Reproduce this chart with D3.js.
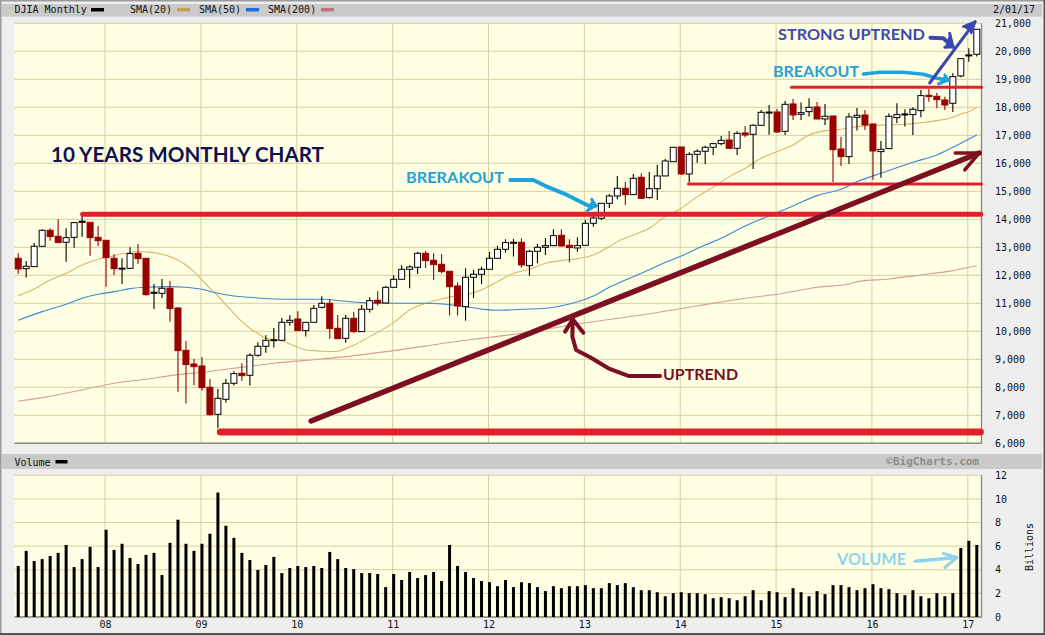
<!DOCTYPE html>
<html>
<head>
<meta charset="utf-8">
<script src="https://cdn.jsdelivr.net/npm/d3@7"></script>
<style>
  html, body { margin: 0; padding: 0; background: #eeeeee; overflow: hidden; }
  svg { display: block; }
  .mono { font-family: "DejaVu Sans Mono", monospace; font-size: 10px; fill: #111; }
  .note { font-family: Lato, "Open Sans", sans-serif; font-weight: 700; }
</style>
</head>
<body>
<svg id="chart" width="1045" height="635"></svg>
<script>
// monthly candles, Feb 2007 .. Feb 2017
const open = [
  12607,12238,12310,13036,13607,13393,13179,13357,13893,13893,
  13357,13250,12607,12250,12250,12786,12607,11357,11357,11536,
  10833,9321,8833,8762,8000,7036,7571,8143,8500,8429,
  9143,9464,9690,9679,10321,10440,10024,10321,10857,11000,
  10107,9750,10464,9988,10786,11107,11012,11571,11857,12214,
  12286,12786,12536,12393,12143,11619,10881,11929,12036,12214,
  12607,12929,13167,13179,12345,12857,13000,13060,13429,13071,
  12976,13071,13857,14036,14571,14833,15107,14881,15500,14774,
  15095,15548,16060,16583,15619,16321,16429,16571,16702,16833,
  16536,17083,17036,17357,17821,17833,17143,18119,17750,17845,
  18012,17583,17690,16512,16238,17643,17726,17405,16417,16524,
  17631,17750,17738,17881,18429,18393,18262,18143,19119,19870,
  19893];
const close = [
  12226,12321,13036,13607,13381,13167,13345,13881,13930,13345,
  13238,12631,12238,12255,12774,12595,11310,11395,11536,10810,
  9310,8810,8738,7988,7024,7607,8143,8488,8417,9143,
  9464,9679,9700,10321,10393,10024,10321,10821,11000,10095,
  9738,10464,9988,10786,11095,11012,11571,11857,12214,12298,
  12786,12524,12381,12131,11595,10905,11929,12036,12214,12607,
  12929,13167,13179,12369,12857,13000,13060,13417,13048,12988,
  13060,13857,14048,14571,14833,15107,14881,15464,14750,15095,
  15548,16083,16571,15619,16321,16429,16571,16702,16821,16536,
  17071,17012,17357,17821,17830,17119,18107,17726,17810,18000,
  17583,17679,16488,16238,17655,17714,17369,16440,16500,17679,
  17738,17762,17929,18417,18381,18274,18083,19095,19738,19871,
  20786];
const high = [
  12786,12512,13155,13643,13679,14000,13679,13881,14155,13893,
  13762,13250,12750,12607,13000,13119,12607,11690,11869,11798,
  10857,9655,9012,9083,8298,7940,8298,8571,8857,9214,
  9607,9857,10119,10476,10571,10714,10321,10940,11250,11155,
  10583,10583,10702,10940,11214,11429,11619,12000,12357,12357,
  12833,12869,12786,12762,12143,11738,12250,12190,12310,12833,
  13048,13286,13298,13321,12905,13119,13321,13643,13643,13286,
  13357,13976,14190,14571,14905,15548,15345,15619,15643,15690,
  15940,16155,16583,16583,16393,16500,16631,16738,16976,17155,
  17143,17333,17393,17905,18083,17940,18226,18298,18167,18321,
  18190,18119,17690,16952,17786,17976,17905,17405,16798,17786,
  18143,17929,18000,18619,18655,18524,18381,19214,19738,20107,
  20786];
const low = [
  12048,11917,12310,13024,13238,13167,12488,12988,13381,12702,
  13048,11595,12012,11690,12250,12405,11274,10798,11190,10345,
  7845,7417,8071,7881,6988,6536,7452,8060,8238,8060,
  9095,9238,9417,9679,10202,10024,9810,10321,10810,9738,
  9738,9595,9929,9988,10667,10917,11012,11571,11857,11536,
  12048,12262,11833,12072,10560,10560,10381,11190,11690,12214,
  12607,12810,12667,12274,11988,12429,12726,13060,13024,12464,
  12845,13071,13738,13976,14405,14714,14512,14869,14726,14750,
  14690,15548,16060,15583,15310,16024,15976,16298,16643,16536,
  16298,16929,15798,17333,17024,17095,17012,17548,17548,17667,
  17571,17369,15333,15905,15976,17167,17190,15405,15488,16524,
  17429,17310,17012,17643,18202,17964,17905,17833,19071,19631,
  19810];
// billions of shares
const volume = [
  4.32,5.6,4.74,4.9,5.17,5.43,6.1,4.23,4.9,5.94,
  4.23,7.39,5.68,6.2,5.0,4.49,5.26,5.43,3.55,6.28,
  8.24,6.2,5.6,6.2,7.05,10.54,7.73,6.7,5.43,4.83,
  3.98,4.4,5.09,3.72,4.15,4.32,4.23,4.32,4.15,5.51,
  4.9,4.15,4.06,3.72,3.72,3.64,2.53,3.64,3.13,3.81,
  3.3,3.55,3.81,3.04,6.1,4.32,3.81,3.3,3.04,2.95,
  2.61,3.13,2.53,2.95,2.87,2.53,2.19,2.61,2.44,2.61,
  2.61,2.7,2.44,2.44,2.87,2.7,2.87,2.53,2.27,2.27,
  2.1,1.76,2.02,2.1,2.02,2.02,1.93,1.59,1.68,1.59,
  1.42,1.76,2.27,1.42,2.19,2.1,1.68,2.44,2.1,1.76,
  2.19,1.93,2.7,2.7,2.53,2.27,2.44,2.78,2.44,2.36,
  2.02,1.85,2.27,1.76,1.59,2.02,1.76,2.02,5.85,6.45,
  6.1];

const sma20Months = [0,2,4,6,8,10,12,14,15,16,17,18,19,20,21,22,23,24,25,26,27,28,29,30,31,32,33,34,35,36,37,38,39,40,41,42,43,44,47,49,51,53,55,57,58,60,62,64,66,68,70,72,74,75,77,79,81,83,85,87,89,91,93,95,97,99,101,103,105,107,109,111,113,115,117,118,119,120];
const sma20Values = [11274,11512,11833,12071,12369,12571,12702,12821,12857,12833,12810,12750,12667,12548,12369,12131,11833,11536,11262,10940,10643,10345,10107,9929,9750,9714,9655,9548,9429,9333,9310,9286,9274,9286,9393,9500,9650,9810,10310,10762,11000,11155,11274,11381,11476,11774,12071,12214,12429,12524,12595,12726,13024,13202,13440,13679,14095,14393,14810,15143,15524,15821,16179,16417,16655,17012,17167,17214,17310,17357,17369,17393,17452,17524,17643,17762,17845,18000];
const sma50Months = [0,3,6,8,10,12,14,16,19,21,23,25,27,29,32,35,38,41,43,46,51,55,58,60,63,66,69,72,74,76,78,80,83,86,88,91,94,97,100,103,105,108,112,115,118,120];
const sma50Values = [10393,10702,10964,11179,11321,11417,11524,11571,11595,11571,11500,11357,11262,11214,11155,11143,11143,11071,11024,11000,11000,10917,10798,10750,10786,10821,10976,11262,11571,11833,12071,12333,12690,13083,13321,13762,14119,14476,14845,15071,15345,15643,16036,16298,16714,17012];
const sma200Months = [0,3,8,12,16,20,23,27,32,38,41,57,63,70,78,85,91,95,100,104,105,109,113,117,119,120];
const sma200Values = [7500,7631,7905,8143,8286,8452,8536,8679,8857,9012,9095,9714,9929,10262,10583,10905,11179,11321,11571,11690,11774,11869,12012,12167,12286,12333];

const yearLabels = ["08","09","10","11","12","13","14","15","16","17"];
const yearMonths = [11,23,35,47,59,71,83,95,107,119];
const priceTicks = d3.range(6000, 22000, 1000);
const volumeTicks = [0,2,4,6,8,10,12];

// the hand drawn stuff on top, in [month, price]
const supportLines = [
  {from: 25.3, to: 120.45, price: 6404, w: 7},
  {from: 8.07, to: 120.5, price: 14179, w: 5},
  {from: 83.9, to: 120.6, price: 15262, w: 3},
  {from: 96.8, to: 120.6, price: 18714, w: 3}
];
const uptrendLine = [[36.67,6797],[120.3,16368]];
const uptrendHead = [[117.3,16368],[120.3,16368],[118.5,15761]];
const uptrendPointer = [[80.35,8405],[76.38,8405],[73.88,8680],[71.59,9073],[69.84,9333],[69.37,9809],[69.42,10430]];
const uptrendPointerHead = [[68.46,9987],[69.42,10430],[70.75,9951]];
const brerakoutArrow = [[61.6,15404],[64.5,15404],[66.2,15165],[68.7,14869],[71.4,14486],[72.3,14486]];
const brerakoutHead = [[71.8,14715],[72.3,14486],[71.2,14308]];
const breakoutArrow = [[105.8,19190],[107.9,19250],[110.8,19250],[113.3,19179],[115,19036],[116.4,18975]];
const breakoutHead = [[116,19154],[116.4,18975],[115.2,18832]];
const strongLine = [[114.1,18868],[119.8,21057]];
const strongHead = [[118.3,20879],[119.8,21057],[119.3,20654]];
const strongPointer = [[114.2,20486],[115.8,20464],[117,20164]];
const strongPointerHead = [[116.6,20643],[117,20164],[116,20143]];
const volumeArrow = [[112.3,4.73],[117.5,5.04]];
const volumeHead = [[115.8,5.38],[117.5,5.04],[116,4.19]];

const labels = [
  {text: "10 YEARS MONTHLY CHART", x: 51, y: 162, w: 273, size: 20, color: "#0f1150"},
  {text: "BRERAKOUT", x: 406, y: 183, w: 98, size: 16, color: "#27a0d8"},
  {text: "BREAKOUT", x: 773, y: 77, w: 86, size: 16, color: "#27a0d8"},
  {text: "STRONG UPTREND", x: 778, y: 40, w: 147, size: 16, color: "#4048b0"},
  {text: "UPTREND", x: 663, y: 380, w: 75, size: 16, color: "#7b1020"},
  {text: "VOLUME", x: 837, y: 565, w: 69, size: 17, color: "#90d4ec"}
];

const svg = d3.select("#chart");

const x = d3.scaleLinear().domain([0, 120]).range([18.2, 976.8]);
const y = d3.scaleLinear().domain([6000, 21000]).range([443.3, 23.3]);
const yVol = d3.scaleLinear().domain([0, 12]).range([617, 475.3]);

const plotL = 14.5, plotR = 981.5;

// page furniture
svg.append("rect").attr("width", 1045).attr("height", 635).attr("fill", "#eeeeee");
svg.append("rect").attr("width", 1.5).attr("height", 635).attr("fill", "#9a9a9a");
svg.append("rect").attr("width", 1045).attr("height", 1.5).attr("fill", "#9a9a9a");
svg.append("rect").attr("x", 1043.5).attr("width", 1.5).attr("height", 635).attr("fill", "#555");
svg.append("rect").attr("y", 633).attr("width", 1045).attr("height", 2).attr("fill", "#555");
svg.append("rect").attr("x", 2).attr("y", 4).attr("width", 1040).attr("height", 12.7).attr("fill", "#cacaca");
svg.append("rect").attr("x", 2).attr("y", 454).attr("width", 1040).attr("height", 15).attr("fill", "#cacaca");

function panel(yScale, ticks) {
  const g = svg.append("g");
  const top = yScale.range()[1], bottom = yScale.range()[0];
  g.append("rect").attr("x", plotL).attr("y", top)
    .attr("width", plotR - plotL).attr("height", bottom - top).attr("fill", "#ffffe4");
  g.selectAll(".h").data(ticks).enter().append("line")
    .attr("x1", plotL).attr("x2", plotR)
    .attr("y1", d => yScale(d)).attr("y2", d => yScale(d))
    .attr("stroke", "#d3d19f").attr("stroke-width", 1);
  g.selectAll(".v").data(yearMonths).enter().append("line")
    .attr("x1", d => x(d) - 1).attr("x2", d => x(d) - 1)
    .attr("y1", top).attr("y2", bottom)
    .attr("stroke", "#d3d19f").attr("stroke-width", 1);
  // darker right and bottom edge
  g.append("path")
    .attr("d", `M${plotR},${top}V${bottom}H${plotL}`)
    .attr("fill", "none").attr("stroke", "#8c8c80").attr("stroke-width", 1.4);
}
panel(y, priceTicks);
panel(yVol, volumeTicks);

// axes
const priceAxis = d3.axisRight(y).tickValues(priceTicks).tickFormat(d3.format(",")).tickSize(0).tickPadding(0);
const pa = svg.append("g").attr("transform", "translate(995,0)").call(priceAxis);
const volAxis = d3.axisRight(yVol).tickValues(volumeTicks).tickSize(0).tickPadding(0);
const va = svg.append("g").attr("transform", "translate(995,0)").call(volAxis);
const yearAxis = d3.axisBottom(d3.scalePoint().domain(yearLabels).range([x(11) - 1, x(119) - 1])).tickSize(0).tickPadding(0);
const ya = svg.append("g").attr("transform", "translate(0,620.5)").call(yearAxis);
[pa, va, ya].forEach(g => {
  g.select(".domain").remove();
  g.selectAll("text").attr("class", "mono").attr("fill", null).attr("font-family", null).attr("font-size", null);
});

// header bits
function monoText(str, tx, ty, anchor) {
  return svg.append("text").attr("class", "mono").attr("x", tx).attr("y", ty)
    .attr("text-anchor", anchor || "start").attr("dominant-baseline", "central").text(str);
}
monoText("DJIA Monthly", 14.5, 9.8);
monoText("SMA(20)", 130, 9.8);
monoText("SMA(50)", 199, 9.8);
monoText("SMA(200)", 268, 9.8);
monoText("2/01/17", 993, 9.8);
monoText("Volume", 14.5, 462);
[[91, "#000000"], [177, "#c8a048"], [246, "#1a6fe0"], [321, "#c87078"]].forEach(d => {
  svg.append("rect").attr("x", d[0]).attr("y", 8).attr("width", 13).attr("height", 3.5).attr("fill", d[1]);
});
svg.append("rect").attr("x", 55.5).attr("y", 460).attr("width", 12).attr("height", 3.5).attr("fill", "#000");
svg.append("text").attr("x", 979).attr("y", 461.5).attr("text-anchor", "end").attr("dominant-baseline", "central")
  .attr("font-family", '"DejaVu Sans Mono", monospace').attr("font-weight", "bold").attr("font-size", 11)
  .attr("fill", "#8c8c8c").text("©BigCharts.com");
svg.append("text").attr("class", "mono").attr("transform", "translate(1029,547) rotate(-90)")
  .attr("text-anchor", "middle").attr("dominant-baseline", "central").text("Billions");

// moving averages
const smaLine = d3.line().x(d => x(d[0])).y(d => y(d[1])).curve(d3.curveMonotoneX);
[[sma20Months, sma20Values, "#dcb46e"], [sma50Months, sma50Values, "#3f86d6"], [sma200Months, sma200Values, "#d99c9a"]].forEach(s => {
  svg.append("path").datum(d3.zip(s[0], s[1]))
    .attr("d", smaLine).attr("fill", "none").attr("stroke", s[2]).attr("stroke-width", 1.1);
});

// candles
const candles = close.map((c, i) => ({i, o: open[i], h: high[i], l: low[i], c, up: c >= open[i]}));
const red = "#990000";
const cg = svg.append("g").selectAll("g").data(candles).enter().append("g");
cg.append("line")
  .attr("x1", d => x(d.i)).attr("x2", d => x(d.i))
  .attr("y1", d => y(d.h)).attr("y2", d => y(d.l))
  .attr("stroke", d => d.up ? "#000" : red).attr("stroke-width", 1.1);
cg.append("rect")
  .attr("x", d => x(d.i) - 3)
  .attr("y", d => y(Math.max(d.o, d.c)))
  .attr("width", 6)
  .attr("height", d => Math.max(Math.abs(y(d.o) - y(d.c)), 1))
  .attr("fill", d => d.up ? "#ffffff" : red)
  .attr("stroke", d => d.up ? "#000" : red).attr("stroke-width", 1);

// volume bars
svg.append("g").selectAll("rect").data(volume).enter().append("rect")
  .attr("x", (d, i) => x(i) - 1.5)
  .attr("y", d => yVol(d))
  .attr("width", 3)
  .attr("height", d => yVol(0) - yVol(d))
  .attr("fill", "#000");

// annotations
svg.selectAll(".support").data(supportLines).enter().append("line")
  .attr("x1", d => x(d.from)).attr("x2", d => x(d.to))
  .attr("y1", d => y(d.price)).attr("y2", d => y(d.price))
  .attr("stroke", "#e2202c").attr("stroke-width", d => d.w).attr("stroke-linecap", "round");

const noteLine = d3.line().x(d => x(d[0])).y(d => y(d[1]));
const noteVol = d3.line().x(d => x(d[0])).y(d => yVol(d[1]));
function stroke(points, color, w, gen, filled) {
  svg.append("path").datum(points).attr("d", gen || noteLine)
    .attr("fill", filled ? color : "none").attr("stroke", color).attr("stroke-width", w)
    .attr("stroke-linecap", "round").attr("stroke-linejoin", "round");
}
stroke(uptrendLine, "#7d0f22", 5.5);
stroke(uptrendHead, "#7d0f22", 3.5);
stroke(uptrendPointer, "#7d0f22", 4);
stroke(uptrendPointerHead, "#7d0f22", 4);
stroke(brerakoutArrow, "#1fa3dc", 4);
stroke(brerakoutHead, "#1fa3dc", 3, null, true);
stroke(breakoutArrow, "#1fa3dc", 3.5);
stroke(breakoutHead, "#1fa3dc", 3, null, true);
stroke(strongLine, "#3a46b4", 3);
stroke(strongHead, "#3a46b4", 2.5, null, true);
stroke(strongPointer, "#3a46b4", 4);
stroke(strongPointerHead, "#3a46b4", 3, null, true);
stroke(volumeArrow, "#90d4ec", 3.5, noteVol);
stroke(volumeHead, "#90d4ec", 3, noteVol);

svg.selectAll(".label").data(labels).enter().append("text")
  .attr("class", "note")
  .attr("x", d => d.x).attr("y", d => d.y)
  .attr("textLength", d => d.w).attr("lengthAdjust", "spacingAndGlyphs")
  .attr("font-size", d => d.size).attr("fill", d => d.color)
  .text(d => d.text);
</script>
</body>
</html>
